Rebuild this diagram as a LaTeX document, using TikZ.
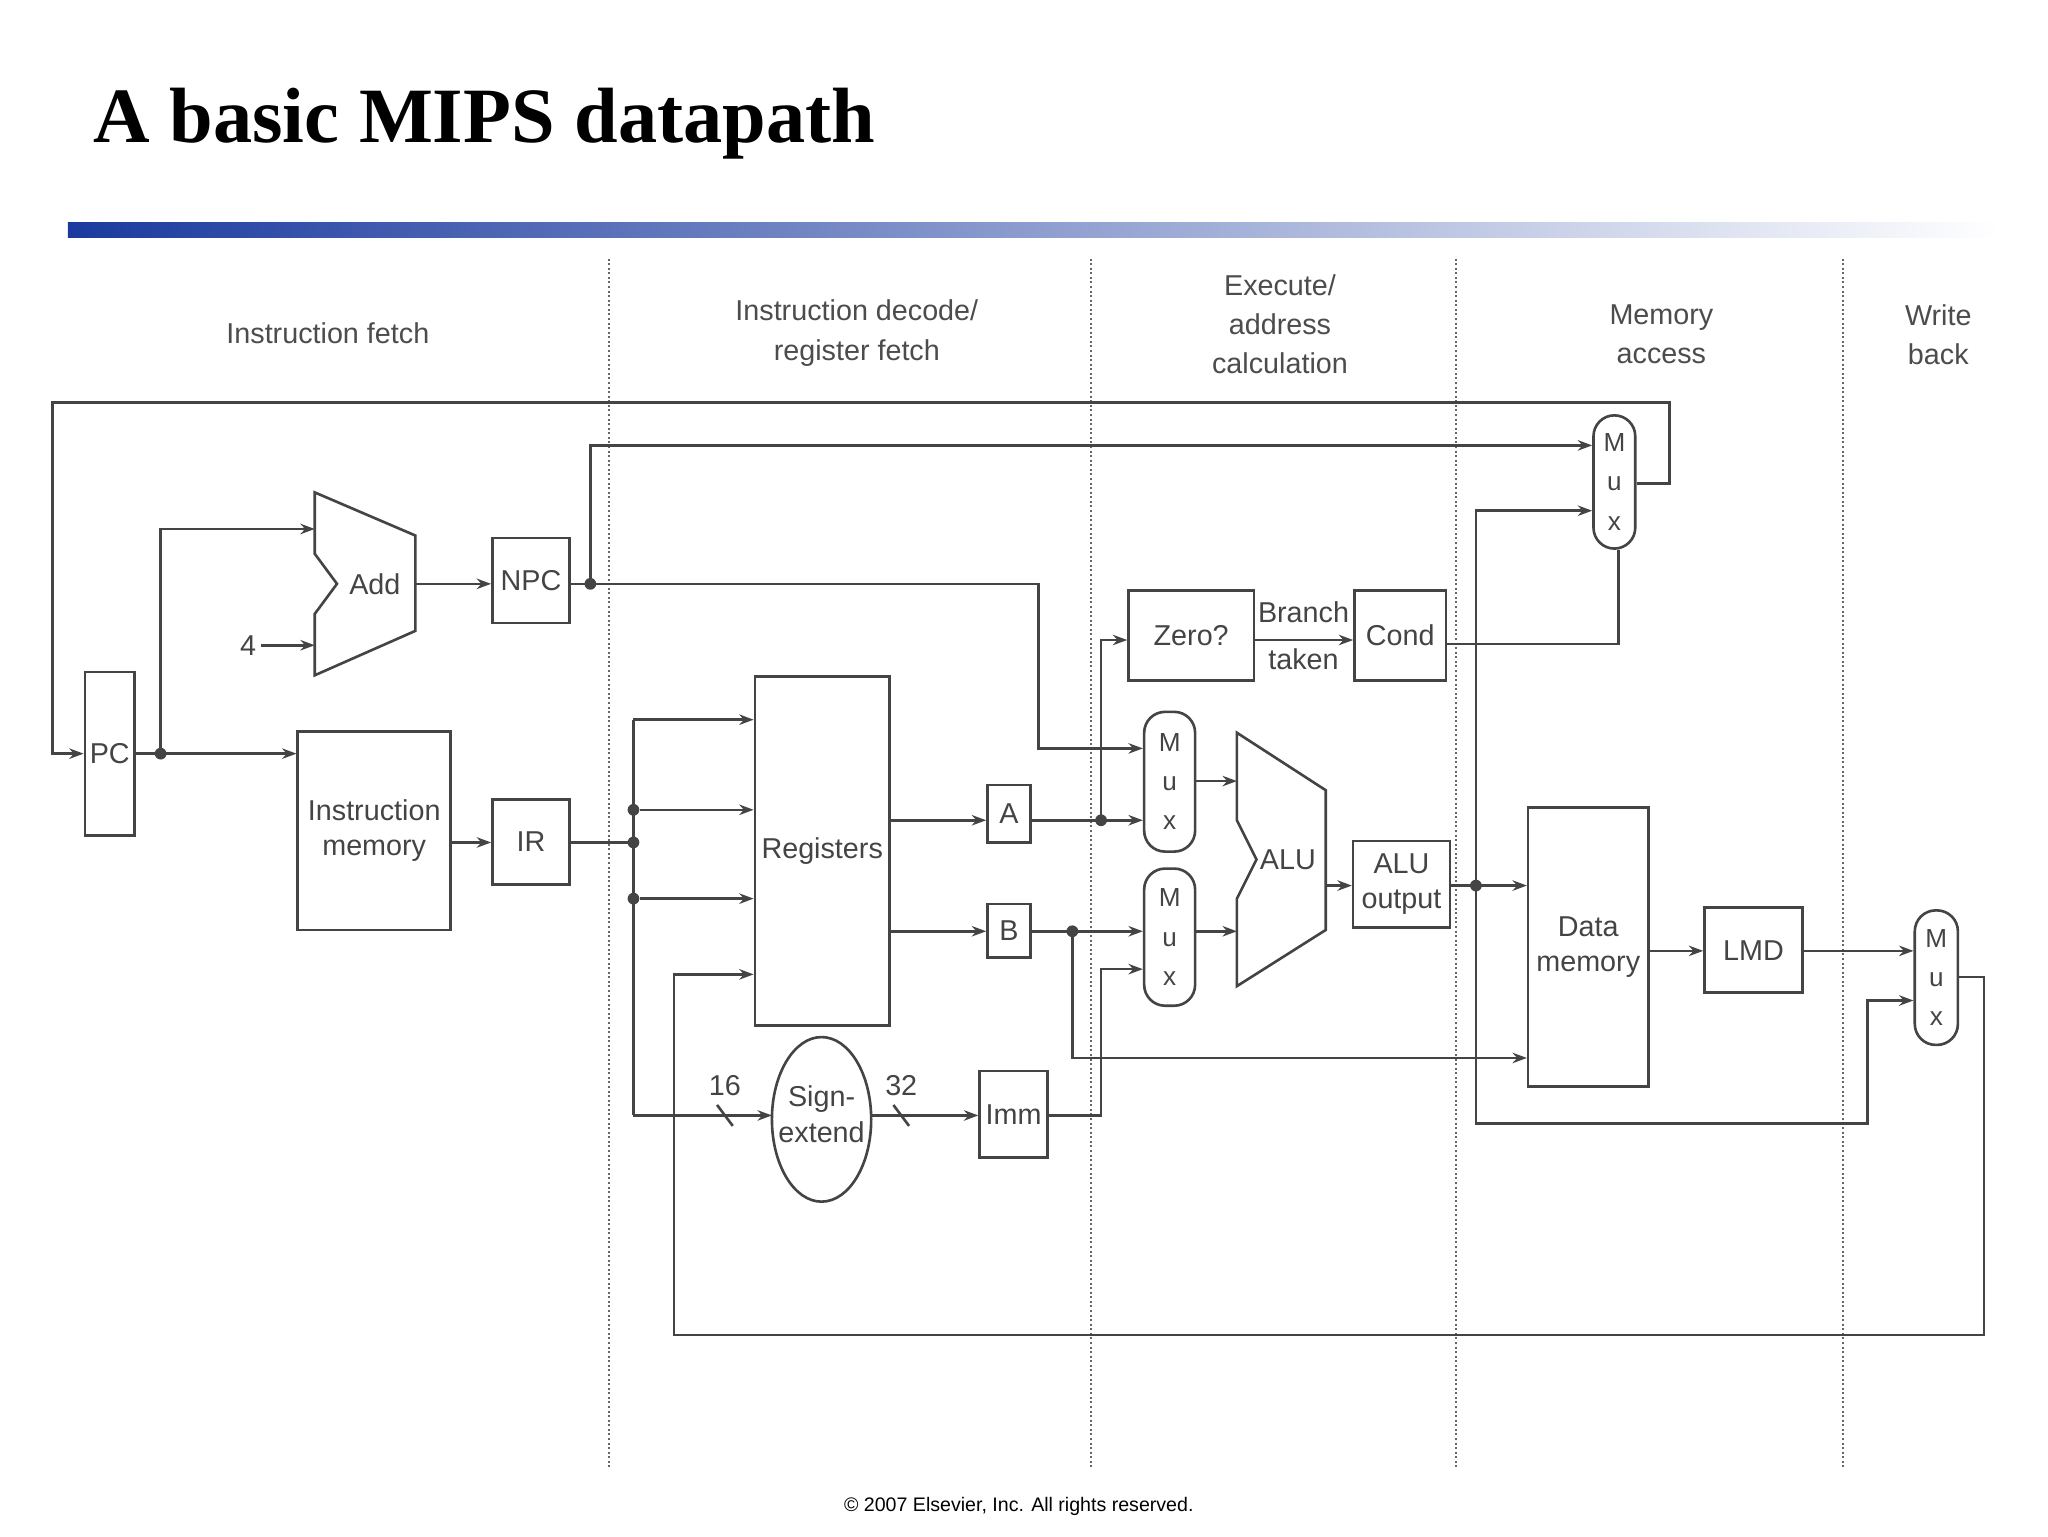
\documentclass[tikz,border=0pt]{standalone}
\usepackage{fontspec}
\setmainfont{Liberation Serif}
\newfontfamily\lsans{Liberation Sans}
\usetikzlibrary{arrows.meta,calc}
\definecolor{wire}{HTML}{444444}
\definecolor{barblue}{HTML}{1A3A9E}
\begin{document}
\begin{tikzpicture}[x=1pt,y=-1pt,
  every node/.style={font=\lsans\fontsize{22}{27}\selectfont, text=wire},
  box/.style={draw=wire, line width=2pt, inner sep=0pt},
  mux/.style={draw=wire, line width=2pt, rounded corners=16, inner sep=0pt, align=center,
    font=\lsans\fontsize{20}{30}\selectfont},
  w/.style={draw=wire, line width=2pt},
  a/.style={w, -{Stealth[length=11pt,width=8pt]}},
  dot/.style={circle, fill=wire, inner sep=0pt, minimum size=9pt},
  stage/.style={align=center, font=\lsans\fontsize{22}{30}\selectfont, text=black!70},
  sep/.style={draw=black!60, line width=1.5pt, dotted}]
\useasboundingbox (0,0) rectangle (1568,1176);
\fill[white] (0,0) rectangle (1568,1176);
% title and bar
\node[anchor=west, font=\fontsize{60}{70}\selectfont\bfseries, text=black] (title) at (68,95) {A basic MIPS datapath};
\shade[left color=barblue, right color=white] (52,170) rectangle (1530,182);
% stage separators
\foreach \x in {466,835,1115,1411} \draw[sep] (\x,198) -- (\x,1125);
\node[stage] (s1) at (251,255) {Instruction fetch};
\node[stage] (s2) at (656,255) {Instruction decode/\\register fetch};
\node[stage] (s3) at (980,248) {Execute/\\address\\calculation};
\node[stage] (s4) at (1272,256) {Memory\\access};
\node[stage] (s5) at (1484,256) {Write\\back};
% components
\node[box, minimum width=38, minimum height=125] (pc) at (84,577) {PC};
\draw[w] (241,377) -- (318,410) -- (318,483) -- (241,517) -- (241,470) -- (258,447) -- (241,424) -- cycle;
\node (add) at (287,447) {Add};
\node[box, minimum width=59, minimum height=65] (npc) at (406.5,444.5) {NPC};
\node[box, minimum width=117, minimum height=152, align=center] (im) at (286.5,636) {Instruction\\memory};
\node[box, minimum width=59, minimum height=65] (ir) at (406.5,644.5) {IR};
\node[box, minimum width=103, minimum height=267] (reg) at (629.5,651.5) {Registers};
\node[box, minimum width=33, minimum height=44] (ra) at (772.5,623) {A};
\node[box, minimum width=33, minimum height=41] (rb) at (772.5,712.5) {B};
\draw[w] (629,857) ellipse [x radius=38, y radius=63];
\node[align=center] (se) at (629,853) {Sign-\\extend};
\node[box, minimum width=52, minimum height=66] (imm) at (776,853) {Imm};
\node[box, minimum width=96, minimum height=69] (zero) at (912,486.5) {Zero?};
\node[box, minimum width=70, minimum height=69] (cond) at (1072,486.5) {Cond};
\node[mux, minimum width=39, minimum height=107] (m1) at (895.5,598.5) {M\\u\\x};
\node[mux, minimum width=39, minimum height=105] (m2) at (895.5,717.5) {M\\u\\x};
\draw[w] (947,561) -- (1015,605) -- (1015,712) -- (947,755) -- (947,688) -- (962,658) -- (947,628) -- cycle;
\node (alu) at (986,658) {ALU};
\node[box, minimum width=74, minimum height=66, align=center] (aluo) at (1073,677) {ALU\\output};
\node[mux, minimum width=32, minimum height=102] (mpc) at (1236,369) {M\\u\\x};
\node[box, minimum width=92, minimum height=214, align=center] (dm) at (1216,725) {Data\\memory};
\node[box, minimum width=75, minimum height=65] (lmd) at (1342.5,727.5) {LMD};
\node[mux, minimum width=33, minimum height=103] (mwb) at (1482.5,748.5) {M\\u\\x};
% junctions
\coordinate (jpc) at (123,577);
\coordinate (jnpc) at (452,447);
\coordinate (jir) at (485,645);
\coordinate (ja) at (843,628);
\coordinate (jb) at (821,713);
\coordinate (jalu) at (1130,678);
\foreach \p in {jpc,jnpc,jir,ja,jb,jalu} \node[dot] at (\p) {};
\node[dot] (jr1) at (485,620) {};
\node[dot] (jr2) at (485,688) {};
% fetch
\draw[a] (mpc.east |- 0,370) -- (1278,370) -- (1278,308) -- (40,308) -- (40,577) -- (pc.west);
\draw[w] (pc.east) -- (jpc);
\draw[a] (jpc) -- (im.west |- jpc);
\draw[a] (jpc) -- (123,405) -- (241,405);
\node (four) at (190,494) {4};
\draw[a] (four.east) -- (241,494);
\draw[a] (318,447) -- (npc.west |- 0,447);
\draw[w] (npc.east |- 0,447) -- (jnpc);
\draw[a] (jnpc) -- (452,341) -- (mpc.west |- 0,341);
\draw[a] (jnpc) -- (795,447) -- (795,573) -- (m1.west |- 0,573);
% decode
\draw[a] (im.east |- 0,645) -- (ir.west |- 0,645);
\draw[w] (ir.east |- 0,645) -- (jir);
\draw[w] (485,551) -- (485,854);
\draw[a] (485,551) -- (reg.west |- 0,551);
\draw[a] (jr1) -- (reg.west |- jr1);
\draw[a] (jr2) -- (reg.west |- jr2);
\draw[a] (485,854) -- (591,854);
\draw[w] (549,846) -- (561,862);
\node (n16) at (555,831) {16};
\draw[a] (mwb.east |- 0,748) -- (1519,748) -- (1519,1022) -- (516,1022) -- (516,746) -- (reg.west |- 0,746);
\draw[a] (reg.east |- 0,628) -- (ra.west |- 0,628);
\draw[a] (reg.east |- 0,713) -- (rb.west |- 0,713);
\draw[a] (667,854) -- (imm.west |- 0,854);
\draw[w] (684,846) -- (696,862);
\node (n32) at (690,831) {32};
% execute
\draw[w] (ra.east |- 0,628) -- (ja);
\draw[a] (ja) -- (m1.west |- ja);
\draw[a] (ja) -- (843,490) -- (zero.west |- 0,490);
\draw[w] (rb.east |- 0,713) -- (jb);
\draw[a] (jb) -- (m2.west |- jb);
\draw[a] (jb) -- (821,810) -- (dm.west |- 0,810);
\draw[a] (imm.east |- 0,854) -- (843,854) -- (843,742) -- (m2.west |- 0,742);
\draw[a] (m1.east |- 0,598) -- (947,598);
\draw[a] (m2.east |- 0,713) -- (947,713);
\draw[a] (1015,678) -- (aluo.west |- 0,678);
\draw[a] (zero.east |- 0,490) -- (cond.west |- 0,490);
\node (br) at (998,469) {Branch};
\node (tk) at (998,505) {taken};
\draw[w] (cond.east |- 0,493) -- (1239,493) -- (mpc.south -| 1239,0);
% memory and write back
\draw[w] (aluo.east |- 0,678) -- (jalu);
\draw[a] (jalu) -- (dm.west |- jalu);
\draw[a] (jalu) -- (1130,391) -- (mpc.west |- 0,391);
\draw[a] (jalu) -- (1130,860) -- (1430,860) -- (1430,766) -- (mwb.west |- 0,766);
\draw[a] (dm.east |- 0,728) -- (lmd.west |- 0,728);
\draw[a] (lmd.east |- 0,728) -- (mwb.west |- 0,728);
\node[font=\lsans\fontsize{15}{18}\selectfont, text=black] (copy) at (780,1153) {\textcopyright\ 2007 Elsevier, Inc. All rights reserved.};
\end{tikzpicture}
\end{document}
